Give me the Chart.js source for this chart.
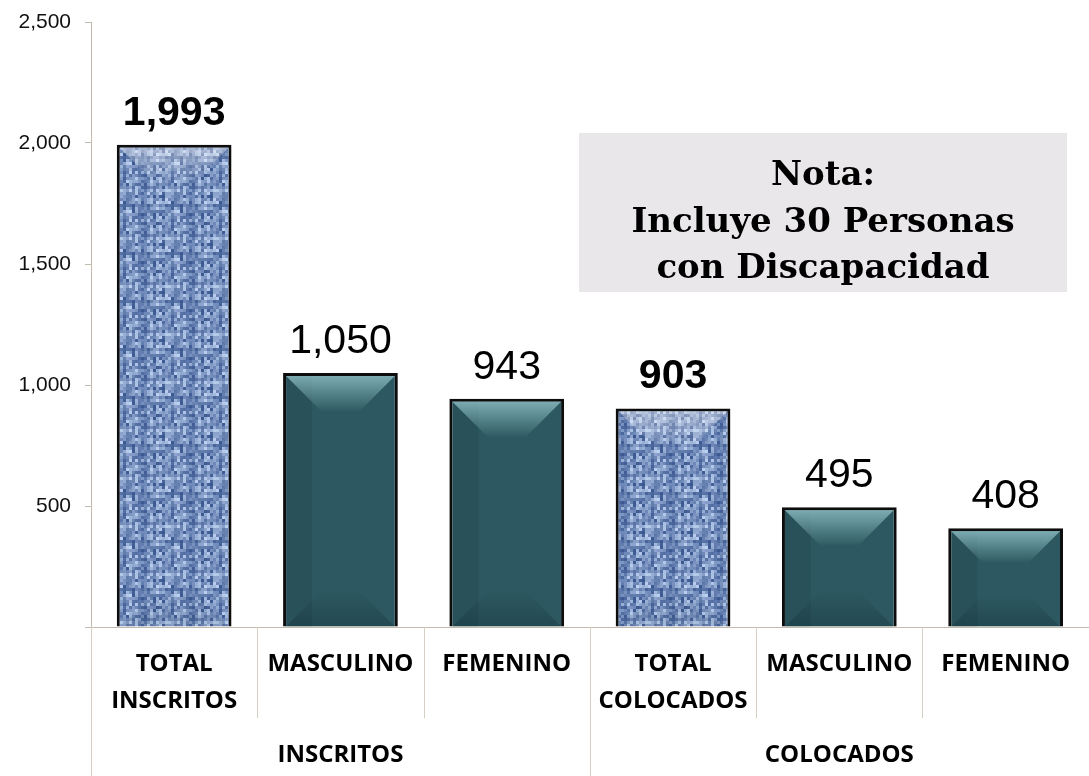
<!DOCTYPE html>
<html>
<head>
<meta charset="utf-8">
<script src="https://cdn.jsdelivr.net/npm/chart.js@4.4.1/dist/chart.umd.min.js"></script>
<style>
  html, body { margin: 0; padding: 0; background: #fff; }
  #wrap { position: relative; width: 1089px; height: 776px; }
</style>
</head>
<body>
<div id="wrap"><canvas id="c" width="1089" height="776"></canvas></div>
<script>
  /* ── datos ── */
  const CATEGORIES = [['TOTAL', 'INSCRITOS'], 'MASCULINO', 'FEMENINO', ['TOTAL', 'COLOCADOS'], 'MASCULINO', 'FEMENINO'];
  const GROUPS = ['INSCRITOS', 'COLOCADOS'];
  const GROUP_SIZE = 3;
  const VALUES = [1993, 1050, 943, 903, 495, 408];
  const TOTAL_IDX = [0, 3];          // barras de totales (textura + etiqueta en negrita)
  const Y_MAX = 2500, Y_STEP = 500;
  const NOTE_LINES = ['Nota:', 'Incluye 30 Personas', 'con Discapacidad'];

  const AXIS_COLOR = '#c3bcae';
  const SEP_COLOR = '#d6d0c4';
  const TEAL = '#2d5861';
  const LABEL_FONT = '"Open Sans", "DejaVu Sans", sans-serif';

  const canvas = document.getElementById('c');
  const ctx = canvas.getContext('2d');

  // textura tipo tela (determinista, sin aleatorios)
  function makeDenim() {
    const N = 16, S = 3;
    const t = document.createElement('canvas');
    t.width = N * S; t.height = N * S;
    const g = t.getContext('2d');
    for (let y = 0; y < N; y++) {
      for (let x = 0; x < N; x++) {
        let h = ((x * 73 + y * 151) ^ (x * y * 29 + 97)) & 255;
        h = (h * 57 + x * 13 + y * 7) & 255;
        let v = 0.6 + (h / 255 - 0.5) * 0.7;
        if (x % 3 === 0) v -= 0.2;
        if (y % 3 === 1) v -= 0.15;
        v = Math.max(0.1, Math.min(1, v));
        const r = Math.round(45 + v * 150), gg = Math.round(75 + v * 140), b = Math.round(135 + v * 110);
        g.fillStyle = 'rgb(' + r + ',' + gg + ',' + b + ')';
        g.fillRect(x * S, y * S, S, S);
      }
    }
    return ctx.createPattern(t, 'repeat');
  }
  const denim = makeDenim();

  /* ── bisel de las barras ── */
  const bevelPlugin = {
    id: 'bevel',
    afterDatasetsDraw(chart) {
      const c = chart.ctx;
      chart.getDatasetMeta(0).data.forEach(function (bar, i) {
        const b = 3;
        const l = bar.x - bar.width / 2 + b, r = bar.x + bar.width / 2 - b;
        const t = bar.y + b, bot = bar.base;
        const d = Math.min(36, (bot - t) / 3);
        const isTotal = TOTAL_IDX.indexOf(i) >= 0;
        c.save();
        // franja izquierda
        if (!isTotal) {
          c.fillStyle = 'rgba(0,0,0,0.07)';
          c.fillRect(l, t, 26, bot - t);
        }
        // superior
        let gr = c.createLinearGradient(0, t, 0, t + d);
        gr.addColorStop(0, isTotal ? 'rgba(255,255,255,0.4)' : 'rgba(150,200,205,0.75)');
        gr.addColorStop(1, isTotal ? 'rgba(255,255,255,0)' : 'rgba(150,200,205,0.0)');
        c.fillStyle = gr;
        c.beginPath();
        c.moveTo(l, t); c.lineTo(r, t); c.lineTo(r - d, t + d); c.lineTo(l + d, t + d); c.closePath();
        c.fill();
        // inferior
        gr = c.createLinearGradient(0, bot - d, 0, bot);
        gr.addColorStop(0, 'rgba(0,20,25,0.0)');
        gr.addColorStop(1, isTotal ? 'rgba(0,20,25,0.08)' : 'rgba(0,20,25,0.22)');
        c.fillStyle = gr;
        c.beginPath();
        c.moveTo(l, bot); c.lineTo(r, bot); c.lineTo(r - d, bot - d); c.lineTo(l + d, bot - d); c.closePath();
        c.fill();
        c.restore();
      });
    }
  };

  /* ── etiquetas de valor, separadores, grupos y nota ── */
  const decorPlugin = {
    id: 'decor',
    afterDraw(chart) {
      const c = chart.ctx;
      const xs = chart.scales.x;
      const area = chart.chartArea;
      c.save();

      // valores sobre las barras
      c.fillStyle = '#000';
      c.textAlign = 'center';
      c.textBaseline = 'alphabetic';
      chart.getDatasetMeta(0).data.forEach(function (bar, i) {
        const bold = TOTAL_IDX.indexOf(i) >= 0;
        c.font = (bold ? 'bold ' : '') + '41px "Liberation Sans", Arial, sans-serif';
        c.fillText(VALUES[i].toLocaleString('en-US'), bar.x, bar.y - 20);
      });

      // separadores de categorías
      c.strokeStyle = SEP_COLOR;
      c.lineWidth = 1;
      c.beginPath();
      c.moveTo(Math.round(area.left) + 0.5, area.bottom);
      c.lineTo(Math.round(area.left) + 0.5, chart.height);
      for (let i = 0; i < CATEGORIES.length - 1; i++) {
        const px = Math.round((xs.getPixelForValue(i) + xs.getPixelForValue(i + 1)) / 2) + 0.5;
        const groupEdge = (i + 1) % GROUP_SIZE === 0;
        c.moveTo(px, area.bottom);
        c.lineTo(px, groupEdge ? chart.height : area.bottom + 91);
      }
      c.stroke();

      // etiquetas de grupo
      c.fillStyle = '#000';
      c.font = 'bold 24px ' + LABEL_FONT;
      c.textBaseline = 'middle';
      GROUPS.forEach(function (g, gi) {
        const a = xs.getPixelForValue(gi * GROUP_SIZE);
        const b = xs.getPixelForValue(gi * GROUP_SIZE + GROUP_SIZE - 1);
        c.fillText(g, (a + b) / 2, area.bottom + 128);
      });

      // cuadro de nota
      c.fillStyle = '#e9e7ea';
      c.fillRect(579, 133, 488, 159);
      c.fillStyle = '#000';
      c.textBaseline = 'alphabetic';
      c.font = 'bold 34px "DejaVu Serif", serif';
      const base = [185, 232, 278];
      NOTE_LINES.forEach(function (s, k) { c.fillText(s, 823, base[k]); });

      c.restore();
    }
  };

  new Chart(ctx, {
    type: 'bar',
    data: {
      labels: CATEGORIES,
      datasets: [{
        data: VALUES,
        backgroundColor: function (cx) { return TOTAL_IDX.indexOf(cx.dataIndex) >= 0 ? denim : TEAL; },
        borderColor: '#0d0d0d',
        borderWidth: 3,
        borderSkipped: 'bottom',
        barPercentage: 0.69,
        categoryPercentage: 1.0
      }]
    },
    options: {
      responsive: false,
      animation: false,
      devicePixelRatio: 1,
      layout: { padding: { top: 22, left: 0, right: 0, bottom: 0 } },
      plugins: { legend: { display: false }, tooltip: { enabled: false } },
      scales: {
        x: {
          grid: { display: false, drawTicks: false },
          border: { display: true, color: AXIS_COLOR, width: 1 },
          ticks: {
            color: '#000',
            padding: 19,
            maxRotation: 0,
            autoSkip: false,
            font: { family: LABEL_FONT, size: 24, weight: 'bold', lineHeight: 37 / 24 }
          },
          afterFit: function (s) { s.height = 149; }
        },
        y: {
          min: 0,
          max: Y_MAX,
          grid: { display: true, drawOnChartArea: false, drawTicks: true, tickLength: 6, color: AXIS_COLOR },
          border: { display: true, color: AXIS_COLOR, width: 1 },
          ticks: {
            stepSize: Y_STEP,
            color: '#111',
            padding: 14,
            font: { family: '"Liberation Sans", Arial, sans-serif', size: 21 },
            callback: function (v) { return v === 0 ? '' : v.toLocaleString('en-US'); }
          },
          afterFit: function (s) { s.width = 91; s.paddingTop = 0; s.paddingBottom = 0; }
        }
      }
    },
    plugins: [bevelPlugin, decorPlugin]
  });
</script>
</body>
</html>
